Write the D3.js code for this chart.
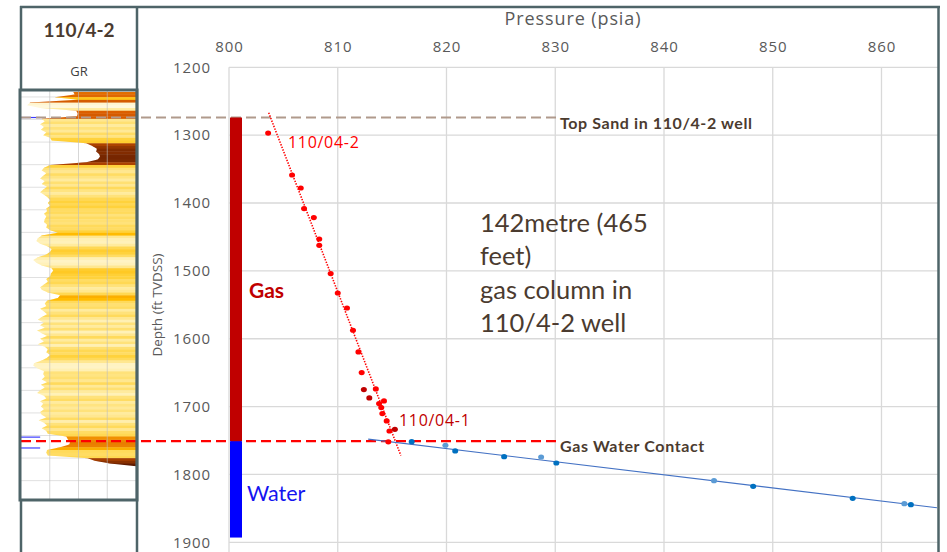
<!DOCTYPE html>
<html>
<head>
<meta charset="utf-8">
<script src="https://cdn.jsdelivr.net/npm/d3@7"></script>
<style>
  html, body { margin: 0; padding: 0; background: #fff; }
  svg { display: block; }
  text { font-family: "Open Sans", "Noto Sans", sans-serif; }
  .cal { font-family: Lato, "Open Sans", sans-serif; }
</style>
</head>
<body>
<svg id="chart" width="947" height="552"></svg>
<script>
// ---------------- DATA ----------------
const pressureTicks = [800, 810, 820, 830, 840, 850, 860];
const depthTicks = [1200, 1300, 1400, 1500, 1600, 1700, 1800, 1900];

// 110/04-2 pressure points (psia, ft TVDSS)
const well2Pressure = [803.6, 805.8, 806.6, 806.9, 807.8, 808.3, 808.3, 809.35, 810.0, 810.85, 811.4, 811.9, 812.2, 813.5, 814.25, 813.8, 814.0, 814.1, 814.5, 814.75, 814.65];
const well2Depth    = [1297, 1358.7, 1377.9, 1408.2, 1421.5, 1453, 1462.3, 1504, 1532.6, 1554.7, 1587.5, 1619.5, 1649.9, 1674, 1691.7, 1695.6, 1701.5, 1710.3, 1721.2, 1736, 1752];
// 110/04-1 points in the gas leg
const well1Pressure = [812.4, 812.9, 815.25];
const well1Depth    = [1675, 1687.3, 1733.5];
// water leg points (two shades)
const waterPressureA = [816.8, 820.8, 825.3, 830.1, 848.2, 857.35, 862.7];
const waterDepthA    = [1751.7, 1765.4, 1773.8, 1783.1, 1817.5, 1835.2, 1844.6];
const waterPressureB = [819.9, 828.7, 844.6, 862.1];
const waterDepthB    = [1757, 1774.3, 1809.2, 1843.1];

// gradient (trend) lines, end points
const gasTrendPressure = [803.65, 815.8];
const gasTrendDepth    = [1267, 1772];
const waterTrendPressure = [812.8, 865.1];
const waterTrendDepth    = [1748, 1849];

// contacts / columns
const topSandDepth = 1274;
const gwcDepth = 1751;
const waterBottomDepth = 1893;
const logMarkerDepths = [1274, 1745, 1761];

// GR log (API), sampled every 4 ft from 1236 ft
const grTopDepth = 1236;
const grStepFt = 4;
const grValues = [68,70,44,74,12,8,25,72,74,73,27,31,25,30,26,33,29,38,40,85,
  93,99,98,102,103,100,85,38,30,27,33,29,25,31,27,34,29,25,30,35,
  38,35,38,33,34,30,33,31,30,34,33,38,48,27,22,20,25,35,40,38,
  33,22,16,20,27,40,42,39,38,33,35,30,25,27,35,51,48,34,31,33,
  25,30,34,27,22,30,25,31,21,27,34,25,30,22,31,35,33,38,34,27,
  17,16,22,30,29,31,27,34,26,31,25,21,30,33,25,29,26,30,25,27,
  33,23,30,34,27,33,35,59,61,64,63,51,34,33,35,87,96,116,150];

const annotationLines = ["142metre (465", "feet)", "gas column in", "110/4-2 well"];

// ---------------- SCALES ----------------
const svg = d3.select("#chart");
const W = 947, H = 552;
svg.append("rect").attr("width", W).attr("height", H).attr("fill", "#fff");

const x = d3.scaleLinear().domain([800, 860]).range([229, 881.5]);
const y = d3.scaleLinear().domain([1200, 1900]).range([67.3, 542.3]);
const plotLeft = x(800), plotRight = 938, plotTop = y(1200), plotBottom = H;

// ---------------- GRID ----------------
const grid = svg.append("g");
grid.selectAll("line.v").data(pressureTicks).join("line")
  .attr("x1", d => x(d)).attr("x2", d => x(d))
  .attr("y1", plotTop).attr("y2", plotBottom)
  .attr("stroke", "#d9d9d9").attr("stroke-width", 1.3);
grid.selectAll("line.h").data(depthTicks).join("line")
  .attr("x1", plotLeft).attr("x2", plotRight)
  .attr("y1", d => y(d)).attr("y2", d => y(d))
  .attr("stroke", "#d9d9d9").attr("stroke-width", 1.3);

// ---------------- AXES ----------------
const xAxis = svg.append("g").attr("transform", "translate(0,52)")
  .call(d3.axisTop(x).tickValues(pressureTicks).tickSize(0).tickPadding(0).tickFormat(d3.format("d")));
xAxis.select(".domain").remove();
xAxis.selectAll("text").attr("fill", "#595959").attr("font-size", 15).attr("letter-spacing", 0.9)
  .style("font-family", '"Open Sans", sans-serif');

const yAxis = svg.append("g").attr("transform", `translate(${plotLeft},0)`)
  .call(d3.axisLeft(y).tickValues(depthTicks).tickSize(0).tickPadding(18).tickFormat(d3.format("d")));
yAxis.select(".domain").remove();
yAxis.selectAll("text").attr("fill", "#595959").attr("font-size", 15).attr("letter-spacing", 0.9)
  .style("font-family", '"Open Sans", sans-serif');

svg.append("text").attr("x", 573).attr("y", 25).attr("text-anchor", "middle")
  .attr("fill", "#595959").attr("font-size", 18).attr("letter-spacing", 0.9)
  .text("Pressure (psia)");
svg.append("text").attr("transform", "translate(162,305) rotate(-90)").attr("text-anchor", "middle")
  .attr("fill", "#595959").attr("font-size", 13.5)
  .text("Depth (ft TVDSS)");

// ---------------- GR LOG TRACK ----------------
const trackL = 21, trackR = 136;
const grX = d3.scaleLinear().domain([0, 150]).range([trackL, trackR]);
const grData = grValues.map((v, i) => ({ d: grTopDepth + i * grStepFt, gr: v }));
const grColor = d3.scaleLinear()
  .domain([8, 22, 30, 38, 48, 60, 72, 86, 100, 116])
  .range(["#fff8dc", "#fff0b4", "#ffe27a", "#ffd23c", "#ffbb00", "#f08c00", "#dc5f00", "#a84000", "#7c2900", "#5e1a00"])
  .clamp(true);

// horizontal track grid (under fill)
const logGrid = d3.range(1243.7, 1830, 33.26);
svg.append("g").selectAll("line").data(logGrid).join("line")
  .attr("x1", trackL).attr("x2", trackR)
  .attr("y1", d => y(d)).attr("y2", d => y(d))
  .attr("stroke", "#e0e0e0").attr("stroke-width", 1);

const defs = svg.append("defs");
const area = d3.area()
  .x0(d => grX(d.gr)).x1(trackR)
  .y(d => y(d.d)).curve(d3.curveLinear);
defs.append("clipPath").attr("id", "grclip").append("path").attr("d", area(grData));

const fillG = svg.append("g").attr("clip-path", "url(#grclip)");
fillG.selectAll("rect").data(grData.slice(0, -1)).join("rect")
  .attr("x", trackL).attr("width", trackR - trackL)
  .attr("y", d => y(d.d)).attr("height", d => y(d.d + grStepFt) - y(d.d) + 0.4)
  .attr("fill", d => grColor(d.gr));

// vertical track grid (over fill)
svg.append("g").selectAll("line").data([37.5, 75, 112.5]).join("line")
  .attr("x1", d => grX(d)).attr("x2", d => grX(d))
  .attr("y1", 90).attr("y2", 500)
  .attr("stroke", "#bdbdbd").attr("stroke-opacity", 0.6).attr("stroke-width", 1);

// blue marker ticks on the log
svg.append("g").selectAll("line").data(logMarkerDepths).join("line")
  .attr("x1", trackL).attr("x2", grX(25))
  .attr("y1", d => y(d)).attr("y2", d => y(d))
  .attr("stroke", "#3c3cff").attr("stroke-width", 1.2);

// ---------------- CONTACT LINES ----------------
svg.append("line").attr("x1", 21).attr("x2", 556)
  .attr("y1", y(topSandDepth)).attr("y2", y(topSandDepth))
  .attr("stroke", "#b09a8c").attr("stroke-width", 2.2).attr("stroke-dasharray", "10,5");
svg.append("line").attr("x1", 21).attr("x2", 556)
  .attr("y1", y(gwcDepth)).attr("y2", y(gwcDepth))
  .attr("stroke", "#ff0000").attr("stroke-width", 2.2).attr("stroke-dasharray", "10,5");

// ---------------- COLUMN BARS ----------------
svg.append("rect").attr("x", plotLeft + 1).attr("width", 12)
  .attr("y", y(topSandDepth)).attr("height", y(gwcDepth) - y(topSandDepth))
  .attr("fill", "#c00000");
svg.append("rect").attr("x", plotLeft + 1).attr("width", 12)
  .attr("y", y(gwcDepth)).attr("height", y(waterBottomDepth) - y(gwcDepth))
  .attr("fill", "#0000ff");

// ---------------- TREND LINES ----------------
const line = d3.line().x(d => x(d[0])).y(d => y(d[1]));
svg.append("path").attr("d", line(d3.zip(gasTrendPressure, gasTrendDepth)))
  .attr("stroke", "#ff0000").attr("stroke-width", 1.6).attr("stroke-dasharray", "1.4,1.4").attr("fill", "none");
svg.append("path").attr("d", line(d3.zip(waterTrendPressure, waterTrendDepth)))
  .attr("stroke", "#4472c4").attr("stroke-width", 1.1).attr("fill", "none");

// ---------------- POINTS ----------------
function dots(ps, ds, color) {
  svg.append("g").selectAll("ellipse").data(d3.zip(ps, ds)).join("ellipse")
    .attr("cx", d => x(d[0])).attr("cy", d => y(d[1]))
    .attr("rx", 3).attr("ry", 2.6).attr("fill", color);
}
dots(well2Pressure, well2Depth, "#ff0000");
dots(well1Pressure, well1Depth, "#c00000");
dots(waterPressureA, waterDepthA, "#0070c0");
dots(waterPressureB, waterDepthB, "#5b9bd5");

// ---------------- LABELS ----------------
svg.append("text").attr("x", 288).attr("y", 147.5).attr("fill", "#ff0000").attr("font-size", 16)
  .attr("letter-spacing", 0.7).text("110/04-2");
svg.append("text").attr("x", 399).attr("y", 426).attr("fill", "#c00000").attr("font-size", 16)
  .attr("letter-spacing", 0.7).text("110/04-1");

svg.append("text").attr("class", "cal").attr("x", 560).attr("y", 129).attr("fill", "#4b3b2f")
  .attr("font-size", 16).attr("font-weight", "bold").attr("letter-spacing", 0.6).text("Top Sand in 110/4-2 well");
svg.append("text").attr("class", "cal").attr("x", 560).attr("y", 452).attr("fill", "#4b3b2f")
  .attr("font-size", 16).attr("font-weight", "bold").attr("letter-spacing", 0.6).text("Gas Water Contact");

svg.append("text").attr("class", "cal").attr("x", 249).attr("y", 297.5).attr("fill", "#c00000")
  .attr("font-size", 21).attr("font-weight", "bold").text("Gas");
svg.append("text").attr("class", "cal").attr("x", 247).attr("y", 500.5).attr("fill", "#1414f0")
  .attr("font-size", 21.5).text("Water");

svg.append("g").selectAll("text").data(annotationLines).join("text")
  .attr("class", "cal").attr("x", 480).attr("y", (d, i) => 232 + i * 33.3)
  .attr("fill", "#4b3b2f").attr("font-size", 25.5).text(d => d);

// ---------------- FRAME / HEADER PANEL ----------------
const frame = "#4e6468";
const fr = svg.append("g").attr("fill", "none").attr("stroke", frame);
fr.append("line").attr("x1", 20).attr("x2", 940).attr("y1", 7).attr("y2", 7).attr("stroke-width", 2.5);
fr.append("line").attr("x1", 938.5).attr("x2", 938.5).attr("y1", 6).attr("y2", H).attr("stroke-width", 2.5);
fr.append("line").attr("x1", 21).attr("x2", 21).attr("y1", 6).attr("y2", 90).attr("stroke-width", 2.5);
fr.append("line").attr("x1", 137).attr("x2", 137).attr("y1", 6).attr("y2", H).attr("stroke-width", 2.5);
fr.append("rect").attr("x", 20).attr("y", 90).attr("width", 117).attr("height", 410).attr("stroke-width", 3);
fr.append("line").attr("x1", 21).attr("x2", 21).attr("y1", 500).attr("y2", H).attr("stroke-width", 2.5);

svg.append("text").attr("class", "cal").attr("x", 79).attr("y", 37).attr("text-anchor", "middle")
  .attr("fill", "#4b3b2f").attr("font-size", 19).attr("font-weight", "bold").text("110/4-2");
svg.append("text").attr("x", 79).attr("y", 76).attr("text-anchor", "middle")
  .attr("fill", "#404040").attr("font-size", 13).text("GR");
</script>
</body>
</html>
